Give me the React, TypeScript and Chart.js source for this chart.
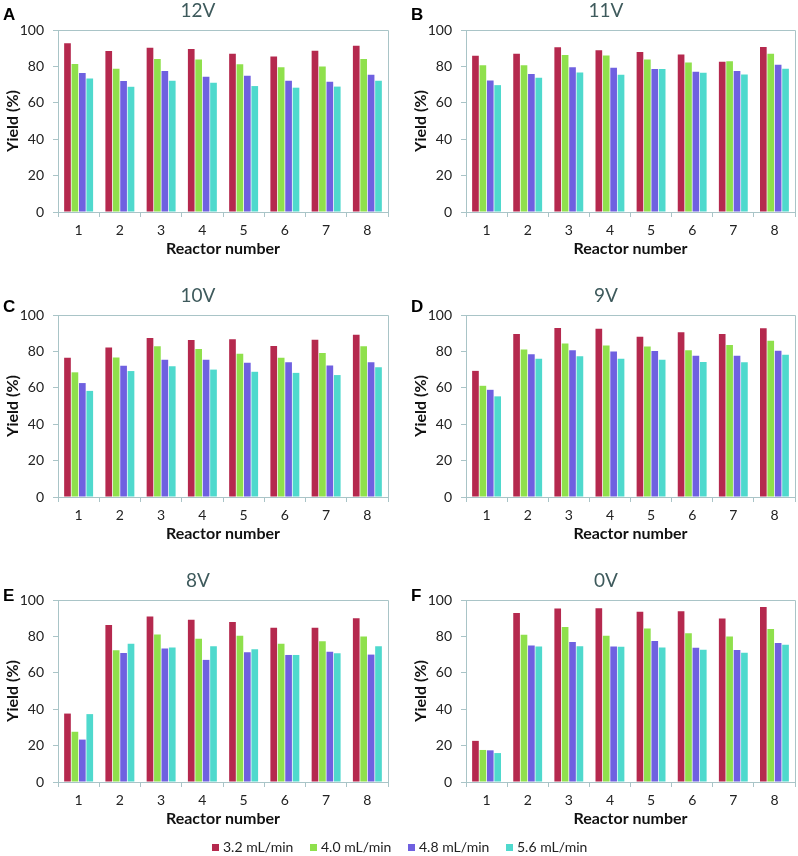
import React, { useEffect, useRef } from "react";
import { Chart, registerables } from "chart.js";

Chart.register(...registerables);

// ---------- data ----------
const reactors = ["1", "2", "3", "4", "5", "6", "7", "8"];
const seriesLabels = ["3.2 mL/min", "4.0 mL/min", "4.8 mL/min", "5.6 mL/min"];
const seriesColors = ["#b5294e", "#8fe04c", "#6f60e0", "#4fd9cd"];
const yTicks = [0, 20, 40, 60, 80, 100];
const panelLetters = ["A", "B", "C", "D", "E", "F"];
const panelTitles = ["12V", "11V", "10V", "9V", "8V", "0V"];

// 12V
const v12_f32 = [92.7, 88.5, 90.2, 89.6, 87.0, 85.4, 88.6, 91.4];
const v12_f40 = [81.3, 78.7, 84.1, 83.8, 81.2, 79.6, 79.9, 84.0];
const v12_f48 = [76.4, 72.0, 77.5, 74.3, 74.9, 72.1, 71.5, 75.4];
const v12_f56 = [73.3, 68.8, 72.1, 71.0, 69.2, 68.3, 68.9, 72.1];
// 11V
const v11_f32 = [85.9, 87.0, 90.5, 88.9, 87.9, 86.5, 82.6, 90.6];
const v11_f40 = [80.6, 80.7, 86.2, 86.0, 83.8, 82.2, 82.8, 86.9];
const v11_f48 = [72.3, 75.8, 79.5, 79.3, 78.6, 77.1, 77.5, 80.9];
const v11_f56 = [69.7, 73.8, 76.6, 75.4, 78.6, 76.5, 75.6, 78.7];
// 10V
const v10_f32 = [76.5, 82.2, 87.3, 86.2, 86.7, 83.0, 86.4, 89.2];
const v10_f40 = [68.5, 76.6, 82.8, 81.3, 78.7, 76.5, 79.1, 82.8];
const v10_f48 = [62.6, 72.1, 75.4, 75.4, 73.7, 74.0, 72.3, 74.0];
const v10_f56 = [58.3, 69.2, 71.9, 70.0, 68.8, 68.2, 67.0, 71.3];
// 9V
const v9_f32 = [69.3, 89.6, 92.8, 92.4, 88.0, 90.5, 89.5, 92.7];
const v9_f40 = [61.1, 81.0, 84.4, 83.2, 82.7, 80.6, 83.5, 85.9];
const v9_f48 = [58.9, 78.5, 80.6, 80.0, 80.2, 77.6, 77.6, 80.4];
const v9_f56 = [55.3, 75.9, 77.3, 76.0, 75.4, 74.2, 74.0, 78.1];
// 8V
const v8_f32 = [37.6, 86.2, 90.9, 89.1, 87.9, 84.7, 84.8, 90.0];
const v8_f40 = [27.6, 72.4, 81.1, 78.7, 80.3, 76.0, 77.3, 80.0];
const v8_f48 = [23.3, 70.9, 73.4, 67.1, 71.3, 69.8, 71.6, 70.0];
const v8_f56 = [37.3, 75.9, 73.9, 74.6, 72.9, 69.8, 70.8, 74.6];
// 0V
const v0_f32 = [22.6, 92.8, 95.3, 95.5, 93.6, 93.8, 89.9, 96.2];
const v0_f40 = [17.6, 80.9, 85.2, 80.4, 84.4, 81.7, 80.0, 84.1];
const v0_f48 = [17.4, 75.0, 76.9, 74.5, 77.5, 73.8, 72.5, 76.4];
const v0_f56 = [15.9, 74.5, 74.6, 74.3, 73.9, 72.7, 71.0, 75.4];

const panelSeries = [
  [v12_f32, v12_f40, v12_f48, v12_f56],
  [v11_f32, v11_f40, v11_f48, v11_f56],
  [v10_f32, v10_f40, v10_f48, v10_f56],
  [v9_f32, v9_f40, v9_f48, v9_f56],
  [v8_f32, v8_f40, v8_f48, v8_f56],
  [v0_f32, v0_f40, v0_f48, v0_f56],
];

// ---------- layout ----------
const FONT = "Lato, 'Open Sans', sans-serif";
const BORDER = "#a9c4c7";
const PANEL_H = 285;
const panelBoxes = [
  { left: 0, top: 0, width: 399, plotRight: 388, letterY: 15 },
  { left: 408, top: 0, width: 390, plotRight: 387, letterY: 15 },
  { left: 0, top: 285, width: 399, plotRight: 388, letterY: 22 },
  { left: 408, top: 285, width: 390, plotRight: 387, letterY: 22 },
  { left: 0, top: 570, width: 399, plotRight: 388, letterY: 26 },
  { left: 408, top: 570, width: 390, plotRight: 387, letterY: 26 },
];

function Panel({ idx }: { idx: number }) {
  const ref = useRef<HTMLCanvasElement | null>(null);
  const box = panelBoxes[idx];
  useEffect(() => {
    if (!ref.current) return;
    const decor = {
      id: "decor" + idx,
      afterDraw(chart: any) {
        const { ctx, chartArea } = chart;
        ctx.save();
        ctx.strokeStyle = BORDER;
        ctx.lineWidth = 1;
        ctx.beginPath();
        ctx.moveTo(Math.round(chartArea.left) + 0.5, Math.round(chartArea.top) + 0.5);
        ctx.lineTo(Math.round(chartArea.right) + 0.5, Math.round(chartArea.top) + 0.5);
        ctx.lineTo(Math.round(chartArea.right) + 0.5, Math.round(chartArea.bottom) + 0.5);
        ctx.stroke();
        ctx.fillStyle = "#000";
        ctx.font = "bold 17px 'Liberation Sans', Arial, sans-serif";
        ctx.textBaseline = "middle";
        ctx.textAlign = "left";
        ctx.fillText(panelLetters[idx], 3, box.letterY);
        ctx.fillStyle = "#3e5a5c";
        ctx.font = "19px " + FONT;
        ctx.textAlign = "center";
        ctx.fillText(panelTitles[idx], 198, 11);
        ctx.restore();
      },
    };
    const chart = new Chart(ref.current, {
      type: "bar",
      data: {
        labels: reactors,
        datasets: panelSeries[idx].map((d, i) => ({
          label: seriesLabels[i],
          data: d,
          backgroundColor: seriesColors[i],
          borderWidth: 0,
          categoryPercentage: 0.72,
          barPercentage: 0.9,
        })),
      },
      options: {
        animation: false,
        responsive: false,
        devicePixelRatio: 1,
        layout: { padding: { top: 30, right: box.width - box.plotRight, left: 0, bottom: 0 } },
        plugins: {
          legend: { display: false },
          tooltip: { enabled: false },
          title: { display: false },
        },
        scales: {
          x: {
            grid: {
              display: true,
              drawOnChartArea: false,
              drawTicks: true,
              tickLength: 5,
              color: BORDER,
              offset: true,
            },
            border: { display: true, color: BORDER, width: 1 },
            ticks: { font: { family: FONT, size: 14 }, color: "#222", padding: 5 },
            title: {
              display: true,
              text: "Reactor number",
              font: { family: FONT, size: 16, weight: "bold" },
              color: "#111",
              padding: { top: 0, bottom: 27 },
            },
            afterFit: (s: any) => {
              s.height = PANEL_H - 212;
            },
          },
          y: {
            min: 0,
            max: 100,
            afterBuildTicks: (s: any) => {
              s.ticks = yTicks.map((v) => ({ value: v }));
            },
            grid: {
              display: true,
              drawOnChartArea: false,
              drawTicks: true,
              tickLength: 5,
              color: BORDER,
            },
            border: { display: true, color: BORDER, width: 1 },
            ticks: { font: { family: FONT, size: 14 }, color: "#222", padding: 9 },
            title: {
              display: true,
              text: "Yield (%)",
              font: { family: FONT, size: 16, weight: "bold" },
              color: "#111",
              padding: { top: 3, bottom: 0 },
            },
            afterFit: (s: any) => {
              s.width = 58;
            },
          },
        },
      } as any,
      plugins: [decor],
    });
    return () => chart.destroy();
  }, [idx]);
  return (
    <div style={{ position: "absolute", left: box.left, top: box.top, width: box.width, height: PANEL_H }}>
      <canvas ref={ref} width={box.width} height={PANEL_H} style={{ display: "block" }} />
    </div>
  );
}

export default function App() {
  return (
    <div
      style={{
        position: "absolute",
        left: 0,
        top: 0,
        width: 798,
        height: 856,
        background: "#fff",
        overflow: "hidden",
      }}
    >
      {panelBoxes.map((_, i) => (
        <Panel key={i} idx={i} />
      ))}
      <div
        style={{
          position: "absolute",
          left: 212,
          top: 838,
          display: "flex",
          fontFamily: FONT,
          fontSize: 14,
          color: "#222",
          lineHeight: "18px",
        }}
      >
        {seriesLabels.map((l, i) => (
          <div key={l} style={{ display: "flex", alignItems: "center", width: 98 }}>
            <span
              style={{
                display: "inline-block",
                width: 7,
                height: 7,
                background: seriesColors[i],
                marginRight: 4,
              }}
            />
            <span>{l}</span>
          </div>
        ))}
      </div>
    </div>
  );
}
